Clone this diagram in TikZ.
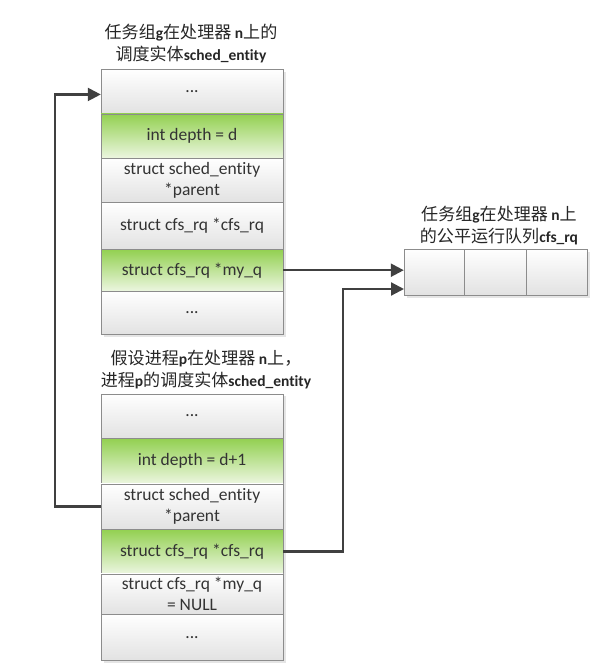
\documentclass[tikz,border=0pt]{standalone}
\usepackage{fontspec}
\setmainfont{Carlito}[Ligatures=NoCommon]
\newfontfamily\cjk{Noto Sans CJK SC}[Scale=1.1]
\usetikzlibrary{arrows.meta}
\newcommand{\zh}[1]{{\cjk #1}}
\definecolor{rowline}{RGB}{140,140,140}
\definecolor{graybot}{RGB}{226,226,226}
\definecolor{greentop}{RGB}{146,208,80}
\definecolor{greenbot}{RGB}{236,246,224}
\definecolor{arrowgray}{RGB}{64,64,64}
\tikzset{
  grayrow/.style={draw=rowline, top color=white, bottom color=graybot,
    minimum width=182pt, inner sep=1pt, anchor=north, align=center,
    text=black!80, font=\fontsize{17.5}{20.5}\selectfont},
  greenrow/.style={grayrow, top color=greentop, bottom color=greenbot},
  qcell/.style={draw=rowline, top color=white, bottom color=graybot,
    minimum height=46pt, inner sep=0pt},
  title/.style={align=center, text=black!85, font=\fontsize{15.5}{22}\selectfont},
  conn/.style={draw=arrowgray, line width=2.2pt,
    -{Triangle[length=13pt,width=13pt]}},
  shade/.style={fill=black!10}
}
\begin{document}
\begin{tikzpicture}[x=1pt,y=-1pt]
\useasboundingbox (0,0) rectangle (608,670);
% shadows
\fill [shade] (104,72) rectangle (286,337);
\fill [shade] (104,396) rectangle (286,663);
\fill [shade] (407,252) rectangle (590,298);
% group entity of task group g
\node [title] (gtitle) at (191,44) {\zh{任务组}\textbf{g}\zh{在处理器} \textbf{n}\zh{上的}\\\zh{调度实体}\textbf{sched\_entity}};
\node [grayrow, minimum height=44.5pt] (gdots) at (192,69) {...};
\node [greenrow, minimum height=44.5pt] (gdepth) at (192,113.5) {int depth = d};
\node [grayrow, minimum height=44pt] (gparent) at (192,158) {struct sched\_entity\\*parent};
\node [grayrow, minimum height=47pt] (gcfs) at (192,202) {struct cfs\_rq *cfs\_rq};
\node [greenrow, minimum height=42pt] (gmyq) at (192,249) {struct cfs\_rq *my\_q};
\node [grayrow, minimum height=43pt] (gend) at (192,291) {...};
% entity of process p
\node [title] (ptitle) at (206,370) {\zh{假设进程}\textbf{p}\zh{在处理器} \textbf{n}\zh{上，}\\\zh{进程}\textbf{p}\zh{的调度实体}\textbf{sched\_entity}};
\node [grayrow, minimum height=44.5pt] (pdots) at (192,393.5) {...};
\node [greenrow, minimum height=45.5pt] (pdepth) at (192,438) {int depth = d+1};
\node [grayrow, minimum height=45.5pt] (pparent) at (192,483.5) {struct sched\_entity\\*parent};
\node [greenrow, minimum height=44.5pt] (pcfs) at (192,529) {struct cfs\_rq *cfs\_rq};
\node [grayrow, minimum height=40.5pt] (pmyq) at (192,573.5) {struct cfs\_rq *my\_q\\= NULL};
\node [grayrow, minimum height=46pt] (pend) at (192,614) {...};
% run queue of g
\node [title] (qtitle) at (499,226) {\zh{任务组}\textbf{g}\zh{在处理器} \textbf{n}\zh{上}\\\zh{的公平运行队列}\textbf{cfs\_rq}};
\node [qcell, minimum width=60pt] (q1) at (434,272) {};
\node [qcell, minimum width=62pt] (q2) at (495,272) {};
\node [qcell, minimum width=61pt] (q3) at (556.5,272) {};
\coordinate (qin) at (404,289);
% links
\draw [conn] (gmyq.east) -- (gmyq.east -| q1.west);
\draw [conn] (pcfs.east) -- ++(60,0) |- (qin);
\draw [conn] (pparent.west) -- ++(-46,0) |- ([yshift=-3pt]gdots.west);
\end{tikzpicture}
\end{document}
